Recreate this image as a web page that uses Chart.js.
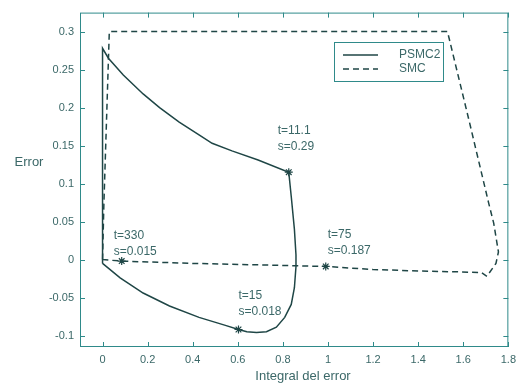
<!DOCTYPE html>
<html>
<head>
<meta charset="utf-8">
<script src="https://cdn.jsdelivr.net/npm/chart.js@4"></script>
<style>
  html, body { margin: 0; padding: 0; background: #fff; }
  #wrap { width: 522px; height: 388px; position: relative; }
</style>
</head>
<body>
<div id="wrap"><canvas id="phase"></canvas></div>
<script>
(() => {
  "use strict";

  // ── data ────────────────────────────────────────────────────────────
  const xTicks = [0, 0.2, 0.4, 0.6, 0.8, 1, 1.2, 1.4, 1.6, 1.8];
  const yTicks = [-0.1, -0.05, 0, 0.05, 0.1, 0.15, 0.2, 0.25, 0.3];

  const psmcX = [0, 0, 0.026, 0.092, 0.18, 0.253, 0.34, 0.428, 0.486, 0.574, 0.69, 0.826,
    0.837, 0.851, 0.858, 0.858, 0.851, 0.837, 0.808, 0.771, 0.727, 0.683, 0.64, 0.603,
    0.545, 0.428, 0.297, 0.18, 0.078, 0];
  const psmcY = [-0.005, 0.278, 0.265, 0.243, 0.218, 0.2, 0.181, 0.164, 0.153, 0.143, 0.131, 0.115,
    0.083, 0.04, 0.006, -0.009, -0.037, -0.059, -0.076, -0.089, -0.095, -0.096, -0.095, -0.092,
    -0.0865, -0.076, -0.061, -0.044, -0.024, -0.005];

  const smcX = [0, 0.006, 0.03, 1.53, 1.62, 1.713, 1.735, 1.756, 1.745, 1.705, 1.68, 1.56, 1.4, 1.2, 0.99, 0.7, 0.4, 0.085, 0];
  const smcY = [0, 0.074, 0.3, 0.3, 0.19, 0.074, 0.048, 0.01, -0.005, -0.022, -0.017, -0.016, -0.015, -0.013, -0.009,
    -0.007, -0.005, -0.002, 0];

  const markX = [0.826, 0.603, 0.085, 0.99];
  const markY = [0.115, -0.092, -0.002, -0.009];
  const markT = ["t=11.1", "t=15", "t=330", "t=75"];
  const markS = ["s=0.29", "s=0.018", "s=0.015", "s=0.187"];

  const seriesNames = ["PSMC2", "SMC"];

  // ── styling ─────────────────────────────────────────────────────────
  const lineColor = "#1f4646";
  const textColor = "#3b6868";
  const axisColor = "#2f8a8a";
  const font = "Arial, 'Liberation Sans', Helvetica, sans-serif";

  const pts = (xs, ys) => xs.map((x, i) => ({ x, y: ys[i] }));
  const fmt = (v) => String(Number(v.toFixed(2)));

  // text offsets of the annotations relative to their marker (px)
  const labelOffset = [[-11, -42], [0, -34], [-8, -25], [2, -32]];

  const matlabLook = {
    id: "matlabLook",
    afterDraw(chart) {
      const { ctx, chartArea: a, scales } = chart;
      const xs = scales.x, ys = scales.y;
      ctx.save();

      // frame + inward ticks on all four sides
      ctx.strokeStyle = axisColor;
      ctx.lineWidth = 1;
      ctx.strokeRect(a.left + 0.5, a.top + 0.5, a.right - a.left - 1, a.bottom - a.top - 1);
      ctx.beginPath();
      xTicks.forEach((v) => {
        const px = Math.round(xs.getPixelForValue(v)) + 0.5;
        ctx.moveTo(px, a.bottom); ctx.lineTo(px, a.bottom - 5);
        ctx.moveTo(px, a.top); ctx.lineTo(px, a.top + 5);
      });
      yTicks.forEach((v) => {
        const py = Math.round(ys.getPixelForValue(v)) + 0.5;
        ctx.moveTo(a.left, py); ctx.lineTo(a.left + 5, py);
        ctx.moveTo(a.right, py); ctx.lineTo(a.right - 5, py);
      });
      ctx.stroke();

      // annotations next to the markers
      ctx.fillStyle = textColor;
      ctx.font = "12px " + font;
      ctx.textAlign = "left";
      ctx.textBaseline = "middle";
      markX.forEach((x, i) => {
        const px = xs.getPixelForValue(x) + labelOffset[i][0];
        const py = ys.getPixelForValue(markY[i]) + labelOffset[i][1];
        ctx.fillText(markT[i], px, py);
        ctx.fillText(markS[i], px, py + 16);
      });

      // axis titles
      ctx.font = "13px " + font;
      ctx.textAlign = "center";
      ctx.fillText("Error", 29, 162);
      ctx.fillText("Integral del error", 303, 376);

      // legend box
      const lx = 334, ly = 42, lw = 109, lh = 39;
      ctx.fillStyle = "#fff";
      ctx.fillRect(lx, ly, lw, lh);
      ctx.strokeStyle = axisColor;
      ctx.strokeRect(lx + 0.5, ly + 0.5, lw, lh);
      ctx.font = "12px " + font;
      ctx.textAlign = "left";
      chart.data.datasets.slice(0, 2).forEach((ds, i) => {
        const y = ly + 13 + i * 14;
        ctx.strokeStyle = lineColor;
        ctx.lineWidth = 1.5;
        ctx.setLineDash(ds.borderDash || []);
        ctx.beginPath();
        ctx.moveTo(lx + 9, y); ctx.lineTo(lx + 44, y);
        ctx.stroke();
        ctx.setLineDash([]);
        ctx.fillStyle = textColor;
        ctx.fillText(ds.label, lx + 65, y);
      });

      ctx.restore();
    },
  };

  new Chart(document.getElementById("phase"), {
    type: "scatter",
    data: {
      datasets: [
        {
          label: seriesNames[0],
          data: pts(psmcX, psmcY),
          showLine: true,
          borderColor: lineColor,
          borderWidth: 1.5,
          pointRadius: 0,
          tension: 0,
        },
        {
          label: seriesNames[1],
          data: pts(smcX, smcY),
          showLine: true,
          borderColor: lineColor,
          borderWidth: 1.5,
          borderDash: [6, 4],
          pointRadius: 0,
          tension: 0,
        },
        {
          label: "marks",
          data: pts(markX, markY),
          pointStyle: "star",
          pointRadius: 4,
          borderColor: lineColor,
          borderWidth: 1.2,
          backgroundColor: lineColor,
        },
      ],
    },
    options: {
      responsive: true,
      maintainAspectRatio: false,
      animation: false,
      layout: { padding: { top: 5, right: 6, left: 0, bottom: 0 } },
      plugins: { legend: { display: false }, tooltip: { enabled: false } },
      scales: {
        x: {
          type: "linear",
          min: -0.1,
          max: 1.8,
          grid: { display: false, drawTicks: false },
          border: { display: false },
          ticks: { color: textColor, font: { size: 11, family: font }, padding: 6, maxRotation: 0,
            callback: (v) => fmt(v) },
          afterBuildTicks: (s) => { s.ticks = xTicks.map((v) => ({ value: v })); },
          afterFit: (s) => { s.height = 41; },
        },
        y: {
          type: "linear",
          min: -0.115,
          max: 0.325,
          grid: { display: false, drawTicks: false },
          border: { display: false },
          ticks: { color: textColor, font: { size: 11, family: font }, padding: 6,
            callback: (v) => fmt(v) },
          afterBuildTicks: (s) => { s.ticks = yTicks.map((v) => ({ value: v })); },
          afterFit: (s) => { s.width = 80; },
        },
      },
    },
    plugins: [matlabLook],
  });
})();
</script>
</body>
</html>
